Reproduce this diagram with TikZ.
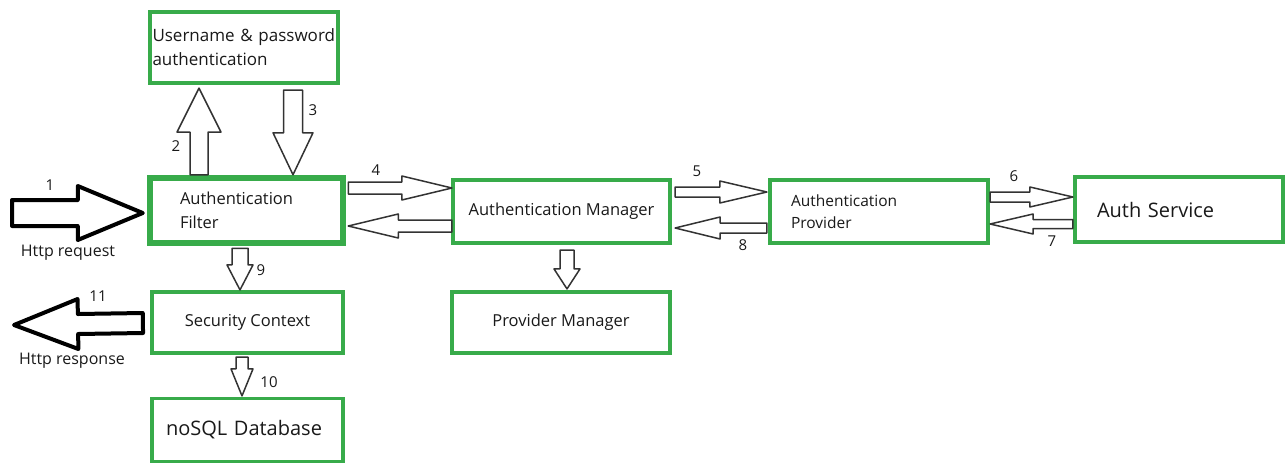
\documentclass[tikz,border=0pt]{standalone}
\usepackage{fontspec}
\setmainfont{Open Sans}
\usetikzlibrary{calc}
\definecolor{BoxClr}{rgb}{0.22,0.67,0.29}
\definecolor{TextClr}{rgb}{0.1,0.1,0.1}

% block arrow: [style]{tail}{tip}{shaft half width}{head half width}{head length}
\newcommand{\BlockArrow}[6][]{%
  \path ($(#3)!#6!(#2)$) coordinate (ba-base);
  \draw[#1] ($(#2)!#4!90:(#3)$) -- ($(ba-base)!#4!90:(#3)$) -- ($(ba-base)!#5!90:(#3)$)
    -- (#3) -- ($(ba-base)!#5!-90:(#3)$) -- ($(ba-base)!#4!-90:(#3)$)
    -- ($(#2)!#4!-90:(#3)$) -- cycle;}

\begin{document}
\begin{tikzpicture}[x=1pt,y=-1pt,
  box/.style={draw=BoxClr,line width=3.2pt,fill=white,inner sep=0pt,text=TextClr,
    font=\fontsize{16.5}{24}\selectfont},
  flow/.style={draw=black!80,line width=1.5pt,fill=white,line join=round},
  heavy/.style={draw=black,line width=4pt,fill=white,line join=round},
  num/.style={text=TextClr,inner sep=0pt,font=\fontsize{15}{17}\selectfont}]
\useasboundingbox (0,0) rectangle (1288,463);

% The boxes.
\node[box,font=\fontsize{17}{24}\selectfont,minimum width=188pt,minimum height=71pt,text width=183pt,inner xsep=2.5pt,align=left]
  (up) at (244,47.5) {Username \& password\\authentication};
\node[box,line width=5.5pt,minimum width=193pt,minimum height=65pt,text width=133pt,inner xsep=30pt,align=left]
  (af) at (246.5,210.5) {Authentication\\Filter};
\node[box,minimum width=217pt,minimum height=63pt] (am) at (561.5,211.5) {Authentication Manager};
\node[box,font=\fontsize{15.5}{22}\selectfont,minimum width=218pt,minimum height=63pt,text width=176pt,inner xsep=21pt,align=left]
  (ap) at (879,211.5) {Authentication\\Provider};
\node[box,font=\fontsize{20}{24}\selectfont,minimum width=208pt,minimum height=65pt,text width=164pt,inner xsep=22pt,align=left]
  (as) at (1179,209.5) {Auth Service};
\node[box,minimum width=191pt,minimum height=61pt] (sc) at (247.5,322.5) {Security Context};
\node[box,minimum width=218pt,minimum height=61pt] (pm) at (561,322.5) {Provider Manager};
\node[box,font=\fontsize{20}{24}\selectfont,minimum width=191pt,minimum height=63pt,text width=163pt,inner xsep=14pt,align=left]
  (db) at (247.5,430) {noSQL Database};

% Ends of the arrows.
\coordinate (reqA) at (12,213);
\coordinate (reqB) at ($(af.west)+(-4.5,2.5)$);
\coordinate (upA) at ($(af.north)+(-47.5,-0.5)$);
\coordinate (upB) at ($(up.south)+(-45,3.5)$);
\coordinate (downA) at ($(up.south)+(49,5.5)$);
\coordinate (downB) at ($(af.north)+(46.5,-0.5)$);
\coordinate (fmA) at ($(af.east)+(2.5,-22.5)$);
\coordinate (fmB) at ($(am.west)+(0.5,-23.5)$);
\coordinate (mfA) at ($(am.west)+(0.5,14.5)$);
\coordinate (mfB) at ($(af.east)+(2.5,15.5)$);
\coordinate (mpA) at ($(am.east)+(3.5,-19.5)$);
\coordinate (mpB) at ($(ap.west)+(-1.5,-19.5)$);
\coordinate (pmA) at ($(ap.west)+(-1.5,16.5)$);
\coordinate (pmB) at ($(am.east)+(3.5,16.5)$);
\coordinate (psA) at ($(ap.east)+(0.5,-14.5)$);
\coordinate (psB) at ($(as.west)+(-0.5,-12.5)$);
\coordinate (spA) at ($(as.west)+(-0.5,14.5)$);
\coordinate (spB) at ($(ap.east)+(0.5,12.5)$);
\coordinate (fsA) at ($(af.south)+(-6.5,2.5)$);
\coordinate (fsB) at ($(sc.north)+(-7.5,-0.5)$);
\coordinate (mmA) at ($(am.south)+(5.5,5.5)$);
\coordinate (mmB) at ($(pm.north)+(6,-1.5)$);
\coordinate (sdA) at ($(sc.south)+(-5.5,2.5)$);
\coordinate (sdB) at ($(db.north)+(-5.5,-1)$);
\coordinate (resA) at ($(sc.west)+(-7.5,0.5)$);
\coordinate (resB) at (14,325);

% Draw the arrows.
\BlockArrow[heavy]{reqA}{reqB}{13pt}{27pt}{65pt}
\BlockArrow[flow]{upA}{upB}{9pt}{22pt}{44pt}
\BlockArrow[flow]{downA}{downB}{9.5pt}{20pt}{42pt}
\BlockArrow[flow]{fmA}{fmB}{6pt}{12pt}{50pt}
\BlockArrow[flow]{mfA}{mfB}{6pt}{12pt}{50pt}
\BlockArrow[flow]{mpA}{mpB}{5pt}{11pt}{47pt}
\BlockArrow[flow]{pmA}{pmB}{5pt}{11pt}{45pt}
\BlockArrow[flow]{psA}{psB}{5pt}{10pt}{43pt}
\BlockArrow[flow]{spA}{spB}{4.5pt}{10pt}{43pt}
\BlockArrow[flow]{fsA}{fsB}{8pt}{13pt}{25pt}
\BlockArrow[flow]{mmA}{mmB}{7pt}{13pt}{20pt}
\BlockArrow[flow]{sdA}{sdB}{6pt}{11pt}{27pt}
\BlockArrow[heavy]{resA}{resB}{10pt}{25pt}{64pt}

% Labels of the arrows.
\node[num] (l1) at (50,185) {1};
\node[num] (l2) at (176,146) {2};
\node[num] (l3) at (313,110) {3};
\node[num] (l4) at (376,170) {4};
\node[num] (l5) at (697,171) {5};
\node[num] (l6) at (1014,176) {6};
\node[num] (l7) at (1052,241) {7};
\node[num] (l8) at (743,245) {8};
\node[num] (l9) at (261,270) {9};
\node[num] (l10) at (269,382) {10};
\node[num] (l11) at (98,296) {11};
\node[num,font=\fontsize{16}{18}\selectfont] (req) at (68,253) {Http request};
\node[num,font=\fontsize{16}{18}\selectfont] (res) at (72,361) {Http response};

\end{tikzpicture}
\end{document}
